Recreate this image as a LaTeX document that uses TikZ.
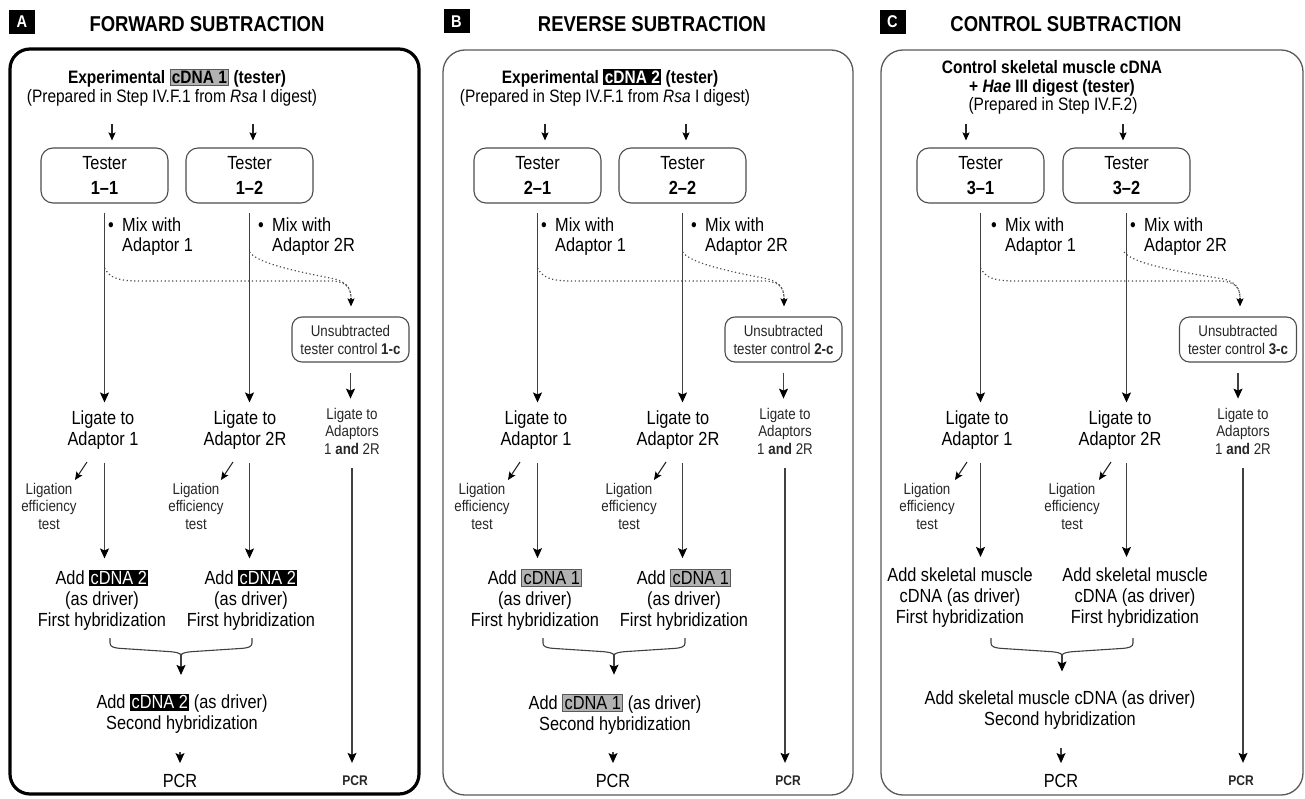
\documentclass[tikz,border=0pt]{standalone}
\usepackage{fontspec}
\setmainfont{Liberation Sans}[FakeStretch=0.86]
\usetikzlibrary{arrows.meta}
\newcommand\hlg[1]{{\setlength\fboxsep{1.5pt}\setlength\fboxrule{0.8pt}\fcolorbox{black!65}{black!30}{#1}}}
\newcommand\hlb[1]{{\setlength\fboxsep{1.5pt}\colorbox{black}{\textcolor{white}{#1}}}}
\tikzset{
 ttl/.style={font=\bfseries\fontsize{21.5}{24}\selectfont, inner sep=0},
 lbl/.style={fill=black, text=white, font=\bfseries\fontsize{17}{17}\selectfont, minimum width=26pt, minimum height=24pt, inner sep=0},
 hd/.style={font=\bfseries\fontsize{18}{19}\selectfont, inner sep=0, align=center},
 sub/.style={font=\fontsize{18}{18}\selectfont, inner sep=0, align=center},
 tbox/.style={draw=black!70, line width=1.1pt, rounded corners=12pt, minimum width=127pt, minimum height=55pt, align=center, font=\fontsize{19}{25}\selectfont, inner sep=0},
 ubox/.style={draw=black!70, line width=1.1pt, rounded corners=10pt, minimum width=117pt, minimum height=45pt, align=center, font=\fontsize{15.5}{18}\selectfont, inner sep=0, text=black!85},
 body/.style={align=center, font=\fontsize{19}{21}\selectfont, inner sep=0},
 sm/.style={align=center, font=\fontsize{15.5}{17.5}\selectfont, inner sep=0, text=black!85},
 mix/.style={align=left, font=\fontsize{19}{20}\selectfont, inner sep=0, anchor=north west},
 arr/.style={draw=black!75, line width=1.1pt, -{Stealth[length=10pt,width=9pt,inset=2pt,color=black]}},
 arrs/.style={draw=black!85, line width=1.1pt, -{Stealth[length=8pt,width=7pt,inset=1.5pt,color=black]}},
 dotl/.style={draw=black!70, line width=1.2pt, dash pattern=on 1.2pt off 2.6pt},
 brk/.style={draw=black!75, line width=1.1pt},
 frA/.style={draw=black, line width=3.2pt, rounded corners=20pt},
 frB/.style={draw=black!65, line width=1.3pt, rounded corners=22pt},
}
% #1 prefix, #2 tester number, #3 head highlight, #4 driver highlight
\newcommand\abpanel[4]{%
 \node[hd] (#1h1) at (177,78) {Experimental #3 (tester)};
 \node[sub] (#1h2) at (172,98) {(Prepared in Step IV.F.1 from \textit{Rsa} I digest)};
 \node[tbox] (#1t1) at (104.5,175.5) {Tester\\\textbf{#2--1}};
 \node[tbox] (#1t2) at (249.5,175.5) {Tester\\\textbf{#2--2}};
 \coordinate (#1a1) at (112,124);
 \coordinate (#1a2) at (253,124);
 \draw[arrs, shorten >=7pt] (#1a1) -- (#1a1 |- #1t1.north);
 \draw[arrs, shorten >=7pt] (#1a2) -- (#1a2 |- #1t2.north);
 \node[mix] (#1m1) at (108,218) {\makebox[14pt][l]{\textbullet}Mix with\\\hspace{14pt}Adaptor 1};
 \node[mix] (#1m2) at (258,218) {\makebox[14pt][l]{\textbullet}Mix with\\\hspace{14pt}Adaptor 2R};
 \node[ubox] (#1u) at (350.5,339.5) {Unsubtracted\\tester control \textbf{#2-c}};
 \node[body] (#1l1) at (103,430) {Ligate to\\Adaptor 1};
 \node[body] (#1l2) at (245,430) {Ligate to\\Adaptor 2R};
 \node[sm] (#1lc) at (352,431) {Ligate to\\Adaptors\\1 \textbf{and} 2R};
 \node[sm] (#1e1) at (49,506) {Ligation\\efficiency\\test};
 \node[sm] (#1e2) at (196,506) {Ligation\\efficiency\\test};
 \node[body] (#1d1) at (102,600) {Add #4\\(as driver)\\First hybridization};
 \node[body] (#1d2) at (251,600) {Add #4\\(as driver)\\First hybridization};
 \node[body] (#1d3) at (182,714) {Add #4 (as driver)\\Second hybridization};
 \node[body] (#1p) at (180,781) {PCR};
 \node[sm, font=\bfseries\fontsize{14}{14}\selectfont] (#1pc) at (355,781) {PCR};
 % main lines
 \draw[arr, shorten <=9pt, shorten >=8pt] (#1t1.south) -- (#1t1.south |- #1l1.north);
 \draw[arr, shorten <=9pt, shorten >=8pt] (#1t2.south) -- (#1t2.south |- #1l2.north);
 % dotted
 \coordinate (#1o1) at (104.5,268);
 \coordinate (#1o2) at (249.5,252);
 \coordinate (#1om) at (351,298);
 \draw[dotl] (#1o1) .. controls (110,278) and (118,281) .. (140,281) -- (330,281) .. controls (345,281) and (351,287) .. (#1om);
 \draw[dotl] (#1o2) .. controls (258,264) and (300,272) .. (335,279) .. controls (346,282) and (351,288) .. (#1om);
 \draw[arrs, shorten >=10pt] (#1om) -- (#1om |- #1u.north);
 \draw[arr, shorten <=10pt, shorten >=9pt] (#1u.south) -- (#1u.south |- #1lc.north);
 \draw[arr, shorten <=14pt, shorten >=13pt] (#1lc.south) -- (#1lc.south |- #1pc.north);
 % ligation test arrows
 \coordinate (#1s1) at (87,462);
 \coordinate (#1s2) at (233,462);
 \draw[arrs] (#1s1) -- ++(-12,18);
 \draw[arrs] (#1s2) -- ++(-12,18);
 \draw[arr, shorten <=13pt, shorten >=11pt] (#1t1.south |- #1l1.south) -- (#1t1.south |- #1d1.north);
 \draw[arr, shorten <=13pt, shorten >=11pt] (#1t2.south |- #1l2.south) -- (#1t2.south |- #1d2.north);
 % bracket
 \coordinate (#1bl) at (110,638);
 \coordinate (#1br) at (252,638);
 \coordinate (#1bc) at (181,655);
 \draw[brk] (#1bl) -- (110,643) .. controls (110,647) and (114,648) .. (122,648.5) -- (168,651.5) .. controls (176,652) and (180,653) .. (#1bc);
 \draw[brk] (#1br) -- (252,643) .. controls (252,647) and (248,648) .. (240,648.5) -- (194,651.5) .. controls (186,652) and (182,653) .. (#1bc);
 \draw[arr, shorten >=19pt] (#1bc) -- (#1bc |- #1d3.north);
 \draw[arr, shorten <=18pt, shorten >=11pt] (#1p.north |- #1d3.south) -- (#1p.north);
}
\begin{document}
\begin{tikzpicture}[x=1pt,y=-1pt]
\useasboundingbox (0,0) rectangle (1305,799);
% titles
\node[lbl] (labA) at (22,22) {A};
\node[lbl] (labB) at (456.5,21.5) {B};
\node[lbl] (labC) at (892.5,22) {C};
\node[ttl] (titA) at (207,24) {FORWARD SUBTRACTION};
\node[ttl] (titB) at (652,24) {REVERSE SUBTRACTION};
\node[ttl] (titC) at (1066,24) {CONTROL SUBTRACTION};
% frames
\draw[frA] (10,49) rectangle (419,794);
\draw[frB] (443,50) rectangle (853,795);
\draw[frB] (881,50) rectangle (1303,795);
% panels A and B
\abpanel{A}{1}{\hlg{cDNA 1}}{\hlb{cDNA 2}}
\begin{scope}[xshift=433pt]
\abpanel{B}{2}{\hlb{cDNA 2}}{\hlg{cDNA 1}}
\end{scope}
% panel C
\node[hd] (Ch1) at (1052,78) {Control skeletal muscle cDNA\\+ \textit{Hae} III digest (tester)};
\node[sub] (Ch2) at (1053,106) {(Prepared in Step IV.F.2)};
\node[tbox] (Ct1) at (980.5,175.5) {Tester\\\textbf{3--1}};
\node[tbox] (Ct2) at (1126.5,175.5) {Tester\\\textbf{3--2}};
\coordinate (Ca1) at (966,124);
\coordinate (Ca2) at (1123,124);
\draw[arrs, shorten >=7pt] (Ca1) -- (Ca1 |- Ct1.north);
\draw[arrs, shorten >=7pt] (Ca2) -- (Ca2 |- Ct2.north);
\node[mix] (Cm1) at (991,218) {\makebox[14pt][l]{\textbullet}Mix with\\\hspace{14pt}Adaptor 1};
\node[mix] (Cm2) at (1130,218) {\makebox[14pt][l]{\textbullet}Mix with\\\hspace{14pt}Adaptor 2R};
\node[ubox] (Cu) at (1238,339.5) {Unsubtracted\\tester control \textbf{3-c}};
\node[body] (Cl1) at (977,430) {Ligate to\\Adaptor 1};
\node[body] (Cl2) at (1120,430) {Ligate to\\Adaptor 2R};
\node[sm] (Clc) at (1243,431) {Ligate to\\Adaptors\\1 \textbf{and} 2R};
\node[sm] (Ce1) at (927,506) {Ligation\\efficiency\\test};
\node[sm] (Ce2) at (1072,506) {Ligation\\efficiency\\test};
\node[body] (Cd1) at (960,598) {Add skeletal muscle\\cDNA (as driver)\\First hybridization};
\node[body] (Cd2) at (1135,598) {Add skeletal muscle\\cDNA (as driver)\\First hybridization};
\node[body] (Cd3) at (1060,710) {Add skeletal muscle cDNA (as driver)\\Second hybridization};
\node[body] (Cp) at (1061,781) {PCR};
\node[sm, font=\bfseries\fontsize{14}{14}\selectfont] (Cpc) at (1241,781) {PCR};
\draw[arr, shorten <=9pt, shorten >=8pt] (Ct1.south) -- (Ct1.south |- Cl1.north);
\draw[arr, shorten <=9pt, shorten >=8pt] (Ct2.south) -- (Ct2.south |- Cl2.north);
\coordinate (Co1) at (980.5,268);
\coordinate (Co2) at (1124,252);
\coordinate (Com) at (1240,298);
\draw[dotl] (Co1) .. controls (986,278) and (994,281) .. (1016,281) -- (1219,281) .. controls (1234,281) and (1240,287) .. (Com);
\draw[dotl] (Co2) .. controls (1133,264) and (1180,272) .. (1224,279) .. controls (1235,282) and (1240,288) .. (Com);
\draw[arrs, shorten >=10pt] (Com) -- (Com |- Cu.north);
\draw[arr, shorten <=10pt, shorten >=9pt] (Cu.south) -- (Cu.south |- Clc.north);
\draw[arr, shorten <=14pt, shorten >=13pt] (Clc.south) -- (Clc.south |- Cpc.north);
\coordinate (Cs1) at (967,462);
\coordinate (Cs2) at (1111,462);
\draw[arrs] (Cs1) -- ++(-12,18);
\draw[arrs] (Cs2) -- ++(-12,18);
\draw[arr, shorten <=13pt, shorten >=11pt] (Ct1.south |- Cl1.south) -- (Ct1.south |- Cd1.north);
\draw[arr, shorten <=13pt, shorten >=11pt] (Ct2.south |- Cl2.south) -- (Ct2.south |- Cd2.north);
\coordinate (Cbl) at (991,638);
\coordinate (Cbr) at (1133,638);
\coordinate (Cbc) at (1062,655);
\draw[brk] (Cbl) -- (991,643) .. controls (991,647) and (995,648) .. (1003,648.5) -- (1049,651.5) .. controls (1057,652) and (1061,653) .. (Cbc);
\draw[brk] (Cbr) -- (1133,643) .. controls (1133,647) and (1129,648) .. (1121,648.5) -- (1075,651.5) .. controls (1067,652) and (1063,653) .. (Cbc);
\draw[arr, shorten >=19pt] (Cbc) -- (Cbc |- Cd3.north);
\draw[arr, shorten <=18pt, shorten >=11pt] (Cp.north |- Cd3.south) -- (Cp.north);
\end{tikzpicture}
\end{document}
